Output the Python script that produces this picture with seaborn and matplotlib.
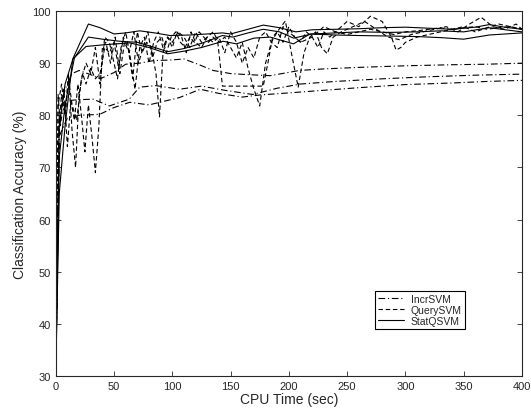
import matplotlib
matplotlib.use("Agg")
import matplotlib.pyplot as plt
import pandas as pd
import seaborn as sns

# StatQSVM (solid), three runs
stat_a_x = [0, 3, 8, 15, 22, 28, 38, 50, 60, 72, 85, 98, 115, 130, 143, 150, 165, 178, 192, 206,
            220, 240, 260, 280, 300, 320, 340, 360, 372, 385, 400]
stat_a_y = [30, 78, 86, 91, 94.5, 97.5, 96.8, 95.6, 95.8, 96.2, 95.8, 95.3, 95.4, 95.6, 95.8, 95.6,
            96.5, 97.3, 96.8, 96.0, 96.4, 96.5, 96.6, 96.8, 96.9, 96.7, 96.5, 96.9, 97.4, 96.9, 96.5]
stat_b_x = [0, 3, 8, 16, 28, 40, 55, 70, 85, 96, 110, 125, 143, 152, 165, 178, 192, 204, 220, 240,
            260, 287, 310, 330, 350, 372, 400]
stat_b_y = [30, 72, 82, 91, 95, 94.6, 94.2, 94.0, 93.0, 92.2, 92.8, 93.8, 95.3, 95.0, 95.8, 96.5,
            96.0, 94.8, 95.6, 95.8, 96.0, 95.9, 96.0, 96.2, 96.0, 96.8, 96.0]
stat_c_x = [0, 3, 8, 14.6, 26, 40, 63.5, 80, 96, 110, 125, 143.6, 155, 170, 184, 204, 218, 240, 260,
            287, 310, 330, 350, 372, 400]
stat_c_y = [30, 65, 78, 90.8, 93.2, 93.5, 93.9, 93.0, 91.8, 92.3, 93.0, 94.2, 93.7, 94.8, 95.0,
            93.7, 95.6, 95.4, 95.3, 95.2, 95.1, 94.9, 94.6, 95.4, 95.8]

# IncrSVM (dash-dot), three runs
incr_a_x = [0, 3, 8, 14, 20, 30, 38, 50, 60, 72, 84, 98, 110, 122, 135, 150, 165, 184, 209, 230,
            261, 300, 340, 370, 400]
incr_a_y = [30, 80, 85, 88, 88.6, 87.8, 87, 88.2, 89.8, 90.0, 90.5, 90.6, 90.8, 89.8, 88.6, 88.0,
            87.8, 87.6, 88.6, 88.9, 89.2, 89.5, 89.7, 89.8, 90.0]
incr_b_x = [0, 3, 9, 20, 32, 46, 63, 72, 86, 106, 125, 145, 169, 190, 210, 240, 280, 320, 360, 400]
incr_b_y = [30, 78, 82.8, 83.0, 83.1, 81.8, 83.1, 85.4, 85.7, 85.0, 85.6, 84.8, 84.0, 85.2, 86.0,
            86.5, 87.0, 87.4, 87.7, 87.9]
incr_c_x = [0, 3, 10, 20, 37.8, 50, 63.5, 80, 106, 124, 140, 160, 175, 200, 230, 260, 300, 340,
            370, 400]
incr_c_y = [30, 76, 79.5, 80, 80.2, 81.5, 82.5, 82.0, 83.4, 85.0, 84.2, 83.5, 83.9, 84.3, 84.8,
            85.3, 85.9, 86.2, 86.5, 86.7]

# QuerySVM (dashed), three runs
query_a_x = [0, 2, 4, 7, 10, 13, 16, 19, 22, 25, 28, 31, 34, 37, 40, 43, 47, 51, 55, 59, 63, 67,
             71, 75, 79, 83, 87, 91, 95, 99, 103, 107, 111, 115, 119, 123, 127, 131, 135, 139, 141,
             143, 178, 182, 186, 190, 195, 200, 205, 210, 215, 220, 225, 230, 235, 240, 250, 260,
             270, 280, 290, 300, 310, 320, 330, 340, 350, 360, 370, 380, 390, 400]
query_a_y = [30, 84, 78, 85, 74, 83, 79, 86, 80, 73, 82, 76, 69, 78, 93, 94, 90, 95, 88, 94, 92,
             96, 90, 93, 96, 91, 94, 95, 92, 95, 96, 94, 93, 95, 94, 96, 95, 94, 95, 94, 90, 85.6,
             85.6, 90, 95, 96, 94, 97, 95, 94, 96, 95, 93, 96, 95, 96, 95.5, 96, 96.5, 96, 95.5, 96,
             96.2, 96.5, 96.8, 96.4, 96.8, 97, 96.5, 96.8, 97, 96.5]
query_b_x = [0, 2, 5, 8, 11, 14, 17, 20, 23, 26, 30, 34, 38, 42, 46, 50, 54, 58, 62, 66, 70, 74,
             78, 82, 86, 89, 92, 96, 100, 104, 108, 112, 116, 120, 125, 130, 135, 140, 145, 150,
             155, 160, 165, 170, 175, 180, 185, 190, 197, 203, 208, 213, 218, 223, 228, 233, 238,
             245, 255, 265, 275, 285, 295, 305, 315, 325, 335, 345, 355, 365, 375, 385, 395, 400]
query_b_y = [30, 82, 86, 80, 88, 77, 70, 84, 88, 86, 89, 87, 88, 93, 92, 94, 89, 95, 93, 87, 96,
             92, 94, 93, 88, 79.7, 92, 95, 93, 96, 95, 92, 96, 94, 93, 95, 96, 94, 95, 93, 91, 94,
             89, 85, 81.8, 90, 94, 96, 98.1, 91, 85.4, 92, 95, 96, 93, 91.8, 95, 96, 97, 98, 96.5,
             95, 94.5, 95.5, 96, 96.5, 97, 96, 97.5, 98.8, 97, 96.5, 97.5, 96.5]
query_c_x = [0, 2, 5, 8, 11, 14, 18, 22, 26, 30, 34, 38, 42, 46, 50, 53, 56, 60, 64, 68, 72, 76,
             80, 84, 88, 92, 96, 100, 105, 110, 115, 120, 125, 130, 135, 140, 145, 150, 155, 160,
             165, 170, 175, 180, 185, 190, 195, 200, 210, 220, 230, 240, 250, 260, 270, 280, 288,
             292, 296, 300, 310, 320, 330, 340, 350, 360, 370, 380, 390, 400]
query_c_y = [30, 76, 84, 80, 87, 82, 79, 87, 90, 88, 93, 86, 95, 94, 90, 87, 93, 96, 91, 85, 93,
             95, 90, 94, 96, 93, 95, 94, 96, 95, 93, 96, 94, 95, 94, 95, 92, 96, 94, 90, 93, 91,
             95, 96, 94, 93, 97, 96, 94, 95, 97, 96, 98, 97, 99, 98, 95, 92.5, 93, 94, 95, 95.5,
             96, 96.5, 97, 96, 96.8, 97.5, 97, 96.5]

series = [
    ("IncrSVM", (0, (6, 2.5, 1, 2.5)), [(incr_a_x, incr_a_y), (incr_b_x, incr_b_y), (incr_c_x, incr_c_y)]),
    ("QuerySVM", (0, (4, 2.5)), [(query_a_x, query_a_y), (query_b_x, query_b_y), (query_c_x, query_c_y)]),
    ("StatQSVM", "-", [(stat_a_x, stat_a_y), (stat_b_x, stat_b_y), (stat_c_x, stat_c_y)]),
]

sns.set_style("ticks")
plt.rcParams["font.family"] = ["Liberation Sans", "DejaVu Sans"]

fig = plt.figure(figsize=(5.31, 4.14), dpi=100)
ax = fig.add_axes([0.105, 0.089, 0.878, 0.882])

for name, style, runs in series:
    for i, (xs, ys) in enumerate(runs):
        df = pd.DataFrame({"time": xs, "acc": ys})
        sns.lineplot(data=df, x="time", y="acc", ax=ax, color="black", linestyle=style,
                     linewidth=0.8, sort=False, estimator=None,
                     label=name if i == 0 else None)

ax.set_xlim(0, 400)
ax.set_ylim(30, 100)
ax.set_xticks(range(0, 401, 50))
ax.set_yticks(range(30, 101, 10))
ax.tick_params(direction="in", top=True, right=True, labelsize=8, length=3.5, width=0.6)
for s in ax.spines.values():
    s.set_linewidth(0.8)
    s.set_visible(True)
ax.set_xlabel("CPU Time (sec)", fontsize=10, labelpad=1)
ax.set_ylabel("Classification Accuracy (%)", fontsize=10, labelpad=4)

leg = ax.legend(loc="lower left", bbox_to_anchor=(0.674, 0.115), fontsize=7.5,
                frameon=True, fancybox=False, edgecolor="black", framealpha=1,
                handlelength=2.5, borderpad=0.3, labelspacing=0.1, handletextpad=0.6)
leg.get_frame().set_linewidth(0.8)

fig.savefig("out.png", dpi=100)
